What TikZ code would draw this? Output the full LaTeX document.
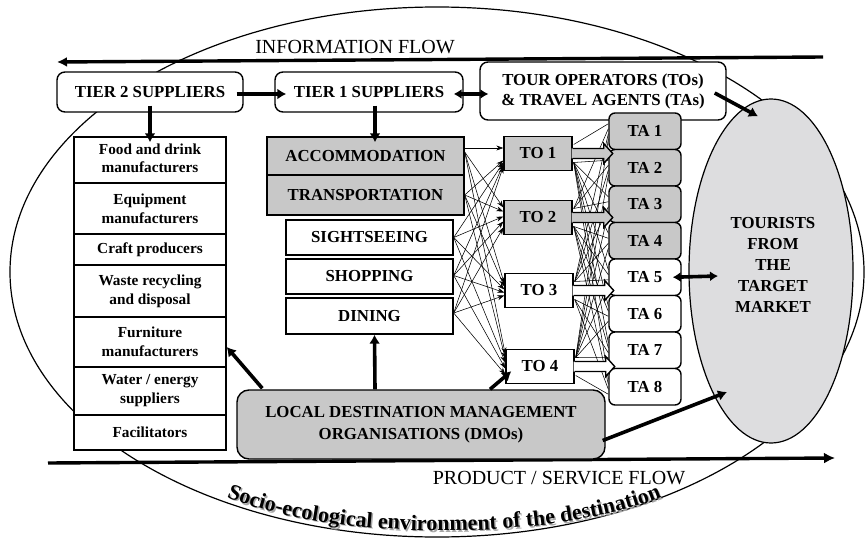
\documentclass[tikz,border=0pt]{standalone}
\usepackage{fontspec}
\setmainfont{Liberation Serif}
\usetikzlibrary{arrows.meta,calc,shapes.geometric,decorations.text}

\definecolor{boxgray}{RGB}{200,200,200}
\definecolor{tourgray}{RGB}{221,221,223}

\begin{document}
\begin{tikzpicture}[x=1pt,y=-1pt,
  basebox/.style={draw, line width=1.4pt, fill=white, inner sep=0pt, align=center,
                  font=\bfseries\fontsize{16.8}{20}\selectfont},
  greybox/.style={basebox, fill=boxgray},
  roundbox/.style={basebox, rounded corners=8pt},
  listbox/.style={basebox, minimum width=152pt, font=\bfseries\fontsize{15.3}{19}\selectfont},
  actbox/.style={basebox, minimum width=167pt},
  tobox/.style={basebox, minimum width=68pt, minimum height=34pt},
  tabox/.style={basebox, rounded corners=6pt, minimum width=72pt, minimum height=36.5pt},
  heavy/.style={line width=3.6pt, -{Latex[length=9pt,width=11pt]}},
  heavyboth/.style={line width=3.6pt, {Latex[length=8pt,width=10pt]}-{Latex[length=8pt,width=10pt]}},
  feed/.style={line width=0.55pt, -{Stealth[length=7pt,width=5pt]}},
  wire/.style={line width=0.55pt},
  flowline/.style={line width=3.4pt},
  flowtext/.style={font=\fontsize{20}{24}\selectfont, inner sep=0pt}
]
\useasboundingbox (0,0) rectangle (866,540);

% the destination boundary
\draw[line width=1.2pt] (437,272) ellipse [x radius=427, y radius=265];

% information and product flows
\coordinate (infoR) at (823,57);
\coordinate (infoL) at (57,62);
\draw[flowline, -{Latex[length=10pt,width=10pt]}] (infoR) -- (infoL);
\node[flowtext] (infolab) at (355,47) {INFORMATION FLOW};

\coordinate (prodL) at (48,463);
\coordinate (prodR) at (835,458);
\draw[flowline, -{Latex[length=11pt,width=11pt]}] (prodL) -- (prodR);
\node[flowtext] (prodlab) at (559,478) {PRODUCT / SERVICE FLOW};

% tourists
\node[ellipse, draw, line width=1.2pt, fill=tourgray, minimum width=164pt,
      minimum height=344pt, inner sep=0pt] (tour) at (771,271) {};
\node[align=center, inner sep=0pt, font=\bfseries\fontsize{16.8}{21}\selectfont]
      (tourtext) at (773,265) {TOURISTS\\FROM\\THE\\TARGET\\MARKET};

% top row
\node[roundbox, minimum width=186pt, minimum height=40pt] (tier2) at (150,92) {TIER 2 SUPPLIERS};
\node[roundbox, minimum width=188pt, minimum height=40pt] (tier1) at (369,92) {TIER 1 SUPPLIERS};
\node[roundbox, minimum width=246pt, minimum height=58pt] (tos) at (603,91)
      {TOUR OPERATORS (TOs)\\\& TRAVEL AGENTS (TAs)};

% tier 2 column
\node[listbox, minimum height=46pt] (food)  at (150,160)   {\raisebox{-3pt}{\begin{tabular}{@{}c@{}}Food and drink\\[-1pt]manufacturers\end{tabular}}};
\node[listbox, minimum height=51pt] (equip) at (150,208.5) {Equipment\\manufacturers};
\node[listbox, minimum height=31pt] (craft) at (150,249.5) {Craft producers};
\node[listbox, minimum height=52pt] (waste) at (150,291)   {Waste recycling\\and disposal};
\node[listbox, minimum height=50pt] (furn)  at (150,342)   {Furniture\\manufacturers};
\node[listbox, minimum height=48pt] (water) at (150,391)   {Water / energy\\suppliers};
\node[listbox, minimum height=35pt] (facil) at (150,432.5) {Facilitators};

% tier 1 column
\node[greybox, minimum width=197pt, minimum height=38pt] (acc)   at (365.5,156) {ACCOMMODATION};
\node[greybox, minimum width=197pt, minimum height=40pt] (trans) at (365.5,195) {TRANSPORTATION};
\node[actbox, minimum height=35pt] (sight) at (369.5,237.5) {SIGHTSEEING};
\node[actbox, minimum height=35pt] (shop)  at (369.5,276.5) {SHOPPING};
\node[actbox, minimum height=36pt] (dine)  at (369.5,316)   {DINING};

% DMOs
\node[basebox, fill=boxgray, rounded corners=12pt, minimum width=368pt, minimum height=69pt,
      font=\bfseries\fontsize{16.8}{22}\selectfont] (dmo) at (421,424.5)
      {LOCAL DESTINATION MANAGEMENT\\ORGANISATIONS (DMOs)};

% travel agents
\foreach \k in {1,...,8}{
  \pgfmathsetmacro\cy{131.25+36.5*(\k-1)}
  \ifnum\k<5 \def\tafill{boxgray}\else\def\tafill{white}\fi
  \node[tabox, fill=\tafill] (ta\k) at (645,\cy) {TA \k};
}

% tour operators
\node[tobox, fill=boxgray] (to1) at (538,153.5) {TO 1};
\node[tobox, fill=boxgray] (to2) at (538,217.5) {TO 2};
\node[tobox] (to3) at (539,290.5) {TO 3};
\node[tobox] (to4) at (540,366.5) {TO 4};

% operators to agents
\foreach \j/\c in {1/153.5,2/217.5,3/290.5,4/366.5}{
  \foreach \k in {1,...,8}{
    \pgfmathsetmacro\tc{131.25+36.5*(\k-1)}
    \pgfmathsetmacro\side{\tc<\c ? -9 : 9}
    \pgfmathsetmacro\off{(\j-2.5)*5}
    \draw[wire] ($(to\j.east)+(1,\side)$) -- ($(ta\k.west)+(0,\off)$);
  }
}

% arrow-shaped outlets of the operators
\foreach \j/\f in {1/boxgray,2/boxgray,3/white,4/white}{
  \fill[\f] ($(to\j.east)+(-1,-5)$) -- ++(32,0) -- ++(0,-5) -- ++(9,10)
            -- ++(-9,10) -- ++(0,-5) -- ++(-32,0) -- cycle;
  \draw[line width=1.4pt, line join=miter] ($(to\j.east)+(0,-5)$) -- ++(31,0) -- ++(0,-5)
            -- ++(9,10) -- ++(-9,10) -- ++(0,-5) -- ++(-31,0);
}

% suppliers to operators
\draw[feed] ($(acc.east)+(0,-8)$) -- ($(to1.west)+(0,-5.5)$);
\foreach \s/\sy/\a/\b/\cc/\d in {
    acc/-4/0/-10/-7/-12,
    trans/0/7/-6/-4/-8,
    sight/0/9/-1/-1/-4,
    shop/-1/11/4/2/2,
    dine/-3/13/10/5/8}{
  \ifnum\a=0\relax\else
    \draw[feed] ($(\s.east)+(0,\sy)$) -- ($(to1.west)+(0,\a)$);
  \fi
  \draw[feed] ($(\s.east)+(0,\sy)$) -- ($(to2.west)+(0,\b)$);
  \draw[feed] ($(\s.east)+(0,\sy)$) -- ($(to3.west)+(0,\cc)$);
  \draw[feed] ($(\s.east)+(0,\sy)$) -- ($(to4.west)+(0,\d)$);
}

% heavy links
\draw[heavy] ($(tier2.east)+(-7,2)$) -- ($(tier1.west)+(12,2)$);
\draw[heavyboth] ($(tier1.east)+(-10,2)$) -- ($(tos.west)+(9,3)$);
\draw[heavy] ($(tos.east)+(-12,2)$) -- ($(tour.north)+(-13,18)$);
\draw[heavy] ($(tier2.south)+(0,-7)$) -- ($(food.north)+(0,6)$);
\draw[heavy] ($(tier1.south)+(6,-7)$) -- ($(acc.north)+(9.5,6)$);
\draw[heavy] ($(dmo.north)+(-46,0)$) -- ($(dine.south)+(5,0)$);
\draw[heavy] ($(dmo.north west)+(26,-1)$) -- ($(furn.east)+(0,5)$);
\draw[heavy] ($(dmo.north)+(69,0)$) -- ($(to4.south west)+(6,-13)$);
\draw[heavy] ($(dmo.east)+(-3,16)$) -- ($(tour.center)+(-44,121)$);
\draw[heavyboth] ($(ta5.east)+(-9,0)$) -- ($(tour.center)+(-53,5)$);

% caption along the boundary, with its shadow
\path[decorate, decoration={text along path, text align=center,
      text={|\color{black!35}\bfseries\fontsize{22}{22}\selectfont|Socio-ecological environment of the destination}}]
  (227.5,498.5) .. controls (338.5,543.5) and (552.5,543.5) .. (663.5,498.5);
\path[decorate, decoration={text along path, text align=center,
      text={|\bfseries\fontsize{22}{22}\selectfont|Socio-ecological environment of the destination}}]
  (226,497) .. controls (337,542) and (551,542) .. (662,497);
\end{tikzpicture}
\end{document}
